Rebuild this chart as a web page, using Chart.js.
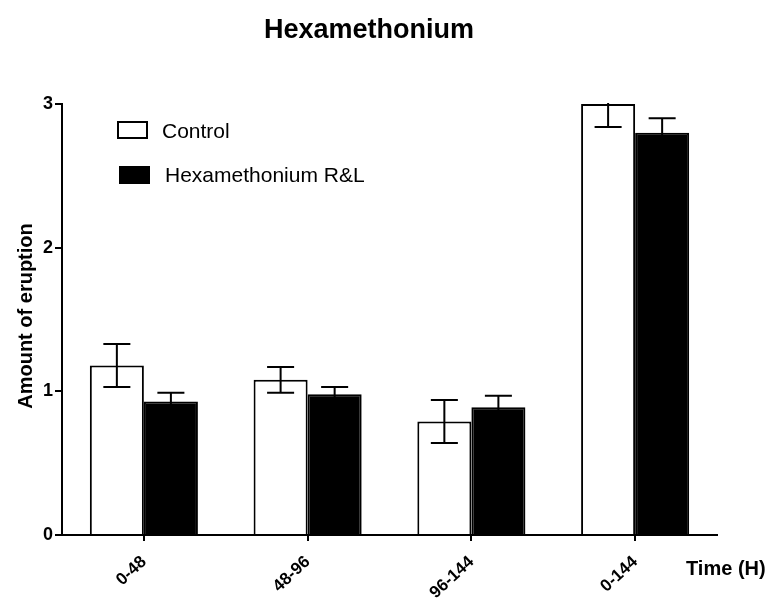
<!DOCTYPE html>
<html>
<head>
<meta charset="utf-8">
<script src="https://cdn.jsdelivr.net/npm/chart.js@4.4.1/dist/chart.umd.min.js"></script>
<style>
  html, body { margin: 0; padding: 0; background: #fff; }
  canvas { display: block; }
</style>
</head>
<body>
<canvas id="eruptionChart" width="772" height="599"></canvas>
<script>
// data
const timeLabels = ["0-48", "48-96", "96-144", "0-144"];
const controlMean = [1.18, 1.08, 0.79, 3.0];
const controlSem = [0.15, 0.09, 0.15, 0.16];
const hexMean = [0.93, 0.98, 0.89, 2.80];
const hexSem = [0.06, 0.05, 0.08, 0.10];
const yTicks = [0, 1, 2, 3];

const FONT = "'Liberation Sans', Arial, sans-serif";

// error bars (mean +/- sem) drawn on top of each bar
const errorBars = {
    id: "errorBars",
    afterDatasetsDraw(chart) {
        const ctx = chart.ctx;
        const y = chart.scales.y;
        const area = chart.chartArea;
        ctx.save();
        ctx.beginPath();
        ctx.rect(area.left, area.top - 1, area.right - area.left, area.bottom - area.top + 1);
        ctx.clip();
        ctx.strokeStyle = "#000";
        ctx.lineWidth = 2;
        chart.data.datasets.forEach(function(ds, i) {
            const meta = chart.getDatasetMeta(i);
            meta.data.forEach(function(bar, j) {
                const v = ds.data[j];
                const e = ds.errors[j];
                const top = y.getPixelForValue(v + e);
                const bot = y.getPixelForValue(v - e);
                const half = bar.width * 0.25;
                ctx.beginPath();
                ctx.moveTo(bar.x, top);
                ctx.lineTo(bar.x, bot);
                ctx.moveTo(bar.x - half, top);
                ctx.lineTo(bar.x + half, top);
                ctx.moveTo(bar.x - half, bot);
                ctx.lineTo(bar.x + half, bot);
                ctx.stroke();
            });
        });
        ctx.restore();
    }
};

// title, axis titles and the legend inside the plot
const decorations = {
    id: "decorations",
    afterDraw(chart) {
        const ctx = chart.ctx;
        ctx.save();
        ctx.fillStyle = "#000";

        ctx.font = "bold 27px " + FONT;
        ctx.textAlign = "center";
        ctx.textBaseline = "alphabetic";
        ctx.fillText("Hexamethonium", 369, 38);

        ctx.font = "bold 20px " + FONT;
        ctx.textAlign = "left";
        ctx.fillText("Time (H)", 686, 575);

        ctx.save();
        ctx.translate(32, 316);
        ctx.rotate(-Math.PI / 2);
        ctx.textAlign = "center";
        ctx.fillText("Amount of eruption", 0, 0);
        ctx.restore();

        // legend
        const boxes = [[118, 122, 162, 138], [120, 167, 165, 182]];
        ctx.font = "21px " + FONT;
        ctx.lineWidth = 2;
        chart.data.datasets.forEach(function(ds, i) {
            const b = boxes[i];
            ctx.fillStyle = ds.backgroundColor;
            ctx.fillRect(b[0], b[1], 29, 16);
            ctx.strokeStyle = "#000";
            ctx.strokeRect(b[0], b[1], 29, 16);
            ctx.fillStyle = "#000";
            ctx.fillText(ds.label, b[2], b[3]);
        });
        ctx.restore();
    }
};

const ctx = document.getElementById("eruptionChart").getContext("2d");
new Chart(ctx, {
    type: "bar",
    data: {
        labels: timeLabels,
        datasets: [{
            label: "Control",
            data: controlMean,
            errors: controlSem,
            backgroundColor: "#ffffff",
            borderColor: "#000000",
            borderWidth: 2
        }, {
            label: "Hexamethonium R&L",
            data: hexMean,
            errors: hexSem,
            backgroundColor: "#000000",
            borderColor: "#000000",
            borderWidth: 2
        }]
    },
    options: {
        responsive: false,
        devicePixelRatio: 1,
        animation: false,
        layout: { padding: { top: 104, right: 55, left: 0, bottom: 0 } },
        datasets: { bar: { categoryPercentage: 0.66, barPercentage: 1.0 } },
        plugins: {
            legend: { display: false },
            title: { display: false },
            tooltip: { enabled: false }
        },
        scales: {
            x: {
                grid: { offset: false, drawOnChartArea: false, drawTicks: true, tickLength: 6, color: "#000", lineWidth: 2 },
                border: { color: "#000", width: 2 },
                ticks: {
                    color: "#000",
                    font: { family: FONT, size: 17, weight: "bold" },
                    minRotation: 43,
                    maxRotation: 43,
                    padding: 11
                },
                afterFit(scale) { scale.height = 64; }
            },
            y: {
                min: 0,
                max: 3,
                afterBuildTicks(scale) { scale.ticks = yTicks.map(v => ({ value: v })); },
                grid: { drawOnChartArea: false, drawTicks: true, tickLength: 7, color: "#000", lineWidth: 2 },
                border: { color: "#000", width: 2 },
                ticks: {
                    color: "#000",
                    font: { family: FONT, size: 18, weight: "bold" },
                    padding: 2
                },
                afterFit(scale) { scale.width = 62; }
            }
        }
    },
    plugins: [errorBars, decorations]
});
</script>
</body>
</html>
